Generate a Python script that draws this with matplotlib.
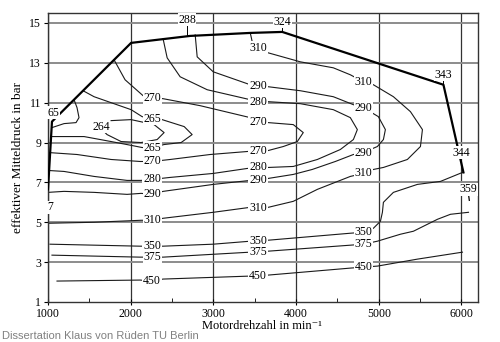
import matplotlib.pyplot as plt
import numpy as np

plt.rcParams['font.family'] = ['Liberation Serif', 'DejaVu Serif']

# full-load line (rpm, bar)
volllast_x = [1000, 1048, 2005, 2719, 3446, 3833, 5782, 6024]
volllast_y = [6.65, 10.05, 14.0, 14.35, 14.5, 14.55, 11.9, 7.5]

c265a_x = [1315, 1351, 1375, 1339, 1194, 1048]
c265a_y = [11.15, 10.75, 10.25, 10.0, 9.95, 9.75]

c264_x = [1763, 2005, 2283, 2404, 2320, 2126, 1884, 1714, 1678]
c264_y = [10.1, 10.15, 9.9, 9.5, 9.15, 9.0, 9.05, 9.4, 9.55]

c265_x = [1424, 1557, 1763, 2005, 2138, 2259, 2380, 2647, 2743, 2610, 2404, 2259, 2138, 2017, 1763, 1436, 1040]
c265_y = [11.6, 11.3, 11.0, 10.65, 10.3, 10.2, 10.15, 9.8, 9.4, 9.0, 8.9, 8.75, 8.75, 8.85, 9.05, 9.3, 9.3]

c270_x = [1799, 1932, 2150, 2271, 2392, 2840, 3446, 3543, 3664, 3966, 4087, 4015, 3845, 3664, 3543, 3409,
          2961, 2477, 2259, 2114, 1763, 1351, 1000]
c270_y = [13.15, 12.15, 11.35, 11.25, 11.2, 10.85, 10.25, 10.05, 10.0, 9.9, 9.5, 9.05, 8.8, 8.6, 8.6, 8.55,
          8.4, 8.15, 8.05, 8.05, 8.15, 8.4, 8.5]

c280_x = [2392, 2441, 2598, 2925, 3446, 3543, 3664, 4051, 4450, 4656, 4741, 4693, 4535, 4257, 3966, 3664,
          3543, 3409, 2998, 2477, 2259, 2126, 1956, 1557, 1194, 1000]
c280_y = [14.2, 13.25, 12.3, 11.65, 11.15, 11.05, 11.05, 10.95, 10.65, 10.25, 9.65, 9.15, 8.65, 8.15, 7.8, 7.75,
          7.75, 7.7, 7.45, 7.25, 7.15, 7.1, 7.1, 7.3, 7.55, 7.6]

c290_x = [2780, 2804, 2998, 3446, 3543, 3664, 4051, 4450, 4693, 4814, 4995, 5080, 5056, 4983, 4814, 4693,
          4475, 4196, 3966, 3664, 3543, 3446, 2998, 2392, 2259, 2126, 1956, 1557, 1194, 1000]
c290_y = [14.4, 13.3, 12.55, 11.9, 11.85, 11.8, 11.6, 11.3, 10.9, 10.75, 10.3, 9.65, 9.15, 8.8, 8.5, 8.4,
          8.05, 7.65, 7.4, 7.2, 7.1, 7.1, 6.9, 6.55, 6.4, 6.45, 6.4, 6.5, 6.55, 6.5]

c310_x = [3446, 3470, 3530, 3664, 4051, 4450, 4656, 4814, 4935, 5177, 5383, 5528, 5504, 5346, 5056, 4935,
          4814, 4656, 4257, 3966, 3664, 3530, 3446, 2998, 2392, 2259, 2126, 1557, 1000]
c310_y = [14.5, 14.05, 13.75, 13.5, 13.05, 12.75, 12.4, 12.05, 11.9, 11.3, 10.55, 9.65, 8.8, 8.15, 7.75, 7.65,
          7.45, 7.3, 6.65, 6.05, 5.75, 5.7, 5.75, 5.5, 5.2, 5.1, 5.1, 5.0, 4.95]

c350_x = [1024, 2114, 2259, 2392, 2998, 3446, 3530, 3664, 4656, 4814, 4935, 5020, 5044, 5056, 5177, 5467, 5746, 6012]
c350_y = [3.9, 3.8, 3.8, 3.8, 3.9, 4.05, 4.05, 4.1, 4.45, 4.5, 4.7, 5.05, 5.5, 6.0, 6.5, 6.9, 7.05, 7.5]

c375_x = [1048, 2114, 2259, 2392, 3446, 3530, 3664, 4656, 4814, 4983, 5262, 5419, 5710, 5867, 6085]
c375_y = [3.35, 3.25, 3.25, 3.25, 3.5, 3.5, 3.55, 3.85, 3.9, 4.05, 4.4, 4.55, 5.15, 5.4, 5.5]

c450_x = [1109, 2114, 2259, 2392, 3446, 3530, 3664, 4656, 4814, 4983, 5467, 6012]
c450_y = [2.05, 2.1, 2.05, 2.15, 2.3, 2.3, 2.35, 2.7, 2.75, 2.8, 3.15, 3.5]

# contour labels
label_txt = ['270', '265', '265', '270', '280', '290', '310', '350', '375', '450',
             '310', '290', '280', '270', '270', '280', '290', '310', '350', '375', '450',
             '310', '290', '290', '310', '350', '375', '450']
label_x = [2259] * 10 + [3540] * 11 + [4814] * 7
label_y = [11.25, 10.2, 8.75, 8.05, 7.15, 6.4, 5.1, 3.8, 3.25, 2.05,
           13.75, 11.85, 11.05, 10.05, 8.6, 7.75, 7.1, 5.7, 4.05, 3.5, 2.3,
           12.05, 10.75, 8.5, 7.45, 4.5, 3.9, 2.75]

# values along the full-load line
point_txt = ['288', '324', '343', '344', '359', '65', '264', '7']
point_x = [2682, 3833, 5782, 6000, 6085, 1070, 1642, 1030]
point_y = [15.15, 15.05, 12.4, 8.5, 6.65, 10.5, 9.8, 5.75]

fig = plt.figure(figsize=(5, 3.42), dpi=100)
ax = fig.add_axes([0.096, 0.117, 0.86, 0.845])

for v in range(1000, 7000, 1000):
    ax.axvline(v, color='#333333', lw=0.9, zorder=1)
for h in range(3, 16, 2):
    ax.axhline(h, color='#8c8c8c', lw=1.4, zorder=1)

contours = [(c265a_x, c265a_y), (c264_x, c264_y), (c265_x, c265_y), (c270_x, c270_y),
            (c280_x, c280_y), (c290_x, c290_y), (c310_x, c310_y), (c350_x, c350_y),
            (c375_x, c375_y), (c450_x, c450_y)]
for cx, cy in contours:
    ax.plot(cx, cy, color='#1a1a1a', lw=0.8, zorder=2)

ax.plot(volllast_x, volllast_y, color='black', lw=1.6, zorder=3)

for t, x, y in zip(label_txt, label_x, label_y):
    ax.text(x, y, t, fontsize=8.5, ha='center', va='center', zorder=5,
            bbox=dict(facecolor='white', edgecolor='none', pad=0.5))

for t, x, y in zip(point_txt, point_x, point_y):
    ax.text(x, y, t, fontsize=8.5, ha='center', va='center', zorder=5,
            bbox=dict(facecolor='white', edgecolor='none', pad=0.3))

# small ticks from point labels to the line
ax.plot([2682, 2682], [14.93, 14.38], color='black', lw=0.7, zorder=4)
ax.plot([3833, 3833], [14.83, 14.55], color='black', lw=0.7, zorder=4)
ax.plot([5782, 5782], [12.18, 11.9], color='black', lw=0.7, zorder=4)
ax.plot([6085, 6095], [6.4, 6.1], color='black', lw=0.9, zorder=4)

ax.set_xlim(1000, 6200)
ax.set_ylim(1, 15.5)
ax.set_xticks(range(1000, 7000, 1000))
ax.set_xticks(range(1500, 6500, 1000), minor=True)
ax.set_yticks(range(1, 16, 2))
ax.tick_params(axis='x', direction='inout', length=5, labelsize=8.5, pad=2)
ax.tick_params(axis='x', which='minor', direction='in', length=3)
ax.tick_params(axis='y', direction='out', length=3, labelsize=8.5, pad=2)
for s in ax.spines.values():
    s.set_linewidth(1.0)
    s.set_color('#333333')

ax.set_ylabel('effektiver Mitteldruck in bar', fontsize=9.5, labelpad=4)
fig.text(0.525, 0.047, 'Motordrehzahl in min⁻¹', fontsize=9, ha='center', va='center')
fig.text(0.004, 0.004, 'Dissertation Klaus von Rüden TU Berlin', fontsize=8, color='#808080',
         family=['Liberation Sans', 'DejaVu Sans'], ha='left', va='bottom')

fig.savefig('out.png', dpi=100)
